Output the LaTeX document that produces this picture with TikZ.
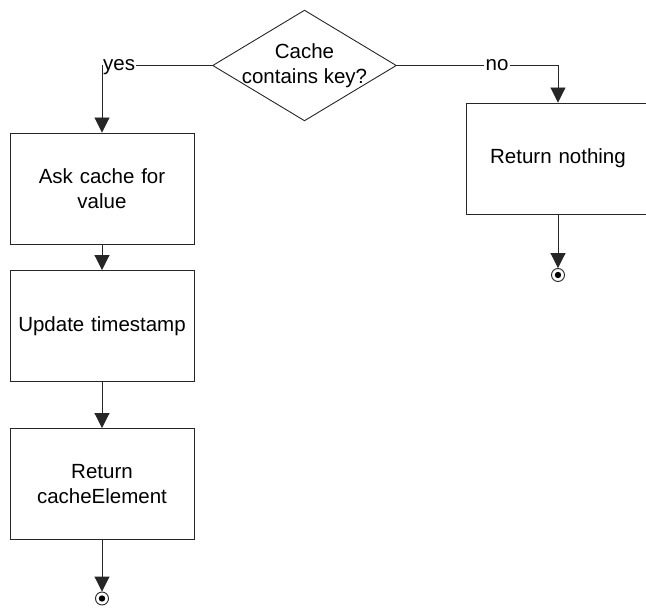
\documentclass[tikz,border=0pt]{standalone}
\usepackage{fontspec}
\setmainfont{Liberation Sans}
\usetikzlibrary{arrows.meta}
\begin{document}
\begin{tikzpicture}[x=1pt,y=-1pt,
  every node/.style={font=\fontsize{20.5}{25}\selectfont},
  line/.style={draw=black!85, line width=0.9pt},
  flow/.style={line, -{Triangle[length=15pt,width=15pt]}},
  stepbox/.style={line, rectangle, minimum width=184pt, minimum height=111pt,
    inner sep=2pt, align=center, text width=170pt},
  label/.style={inner sep=1pt},
  endmark/.style={line, circle, minimum size=13pt, inner sep=0pt,
    path picture={\fill[black] (path picture bounding box.center) circle (3.2pt);}}
]
\useasboundingbox (0,0) rectangle (646,610);

% decision
\node[minimum width=183pt, minimum height=110pt, inner sep=0pt, align=center]
  (dia) at (304.5,65.5) {Cache\\contains key?};
\draw[line] (dia.north) -- (dia.east) -- (dia.south) -- (dia.west) -- cycle;

% left branch
\node[stepbox] (ask) at (102,188.5) {Ask cache for\\value};
\node[stepbox] (upd) at (102,326) {Update timestamp};
\node[stepbox] (ret) at (102,484) {Return\\cacheElement};
\node[endmark] (endL) at (102,598.5) {};

% right branch
\node[stepbox] (none) at (558,158.5) {Return nothing};
\node[endmark] (endR) at (558,275) {};

% branch labels
\node[label, anchor=base west] (yes) at (102,70.5) {yes};
\node[label, anchor=base] (no) at (497,70.5) {no};

% connectors
\draw[line] (dia.west) -- (yes.east |- dia.west);
\draw[flow] (yes.west |- dia.west) -- (ask.north);
\draw[line] (dia.east) -- (no.west |- dia.east);
\draw[flow] (no.east |- dia.east) -| (none.north);
\draw[flow] (ask) -- (upd);
\draw[flow] (upd) -- (ret);
\draw[flow] (ret) -- (endL);
\draw[flow] (none) -- (endR);
\end{tikzpicture}
\end{document}
